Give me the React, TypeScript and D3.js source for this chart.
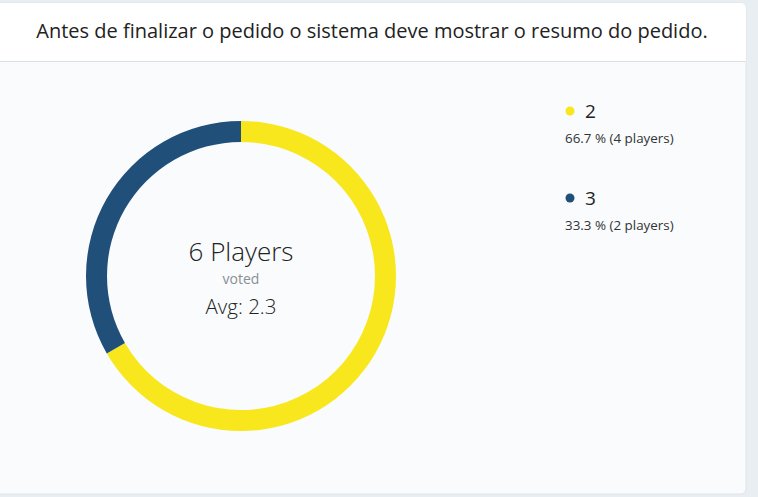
import React, { useRef, useEffect } from 'react';
import * as d3 from 'd3';

const title = 'Antes de finalizar o pedido o sistema deve mostrar o resumo do pedido.';
const voteLabels = ['2', '3'];
const voteCounts = [4, 2];
const voteColors = ['#f8e71c', '#20507a'];

const App = () => {
  const svgRef = useRef<SVGSVGElement>(null);

  useEffect(() => {
    const svg = d3.select(svgRef.current);
    svg.selectAll('*').remove();
    const width = 758;
    const height = 497;
    const font = "'Open Sans', sans-serif";

    // page background and card
    svg.append('rect').attr('width', width).attr('height', height).attr('fill', '#e9eef3');
    svg.append('rect')
      .attr('x', -6).attr('y', 3).attr('width', 752).attr('height', 491)
      .attr('rx', 5)
      .attr('fill', '#f9fbfd')
      .attr('stroke', '#dfe4e9');
    svg.append('path')
      .attr('d', 'M-6,61 V8 a5,5 0 0 1 5,-5 H741 a5,5 0 0 1 5,5 V61 Z')
      .attr('fill', '#ffffff');
    svg.append('line')
      .attr('x1', 0).attr('x2', 746).attr('y1', 61.5).attr('y2', 61.5)
      .attr('stroke', '#dcdfe3');

    svg.append('text')
      .attr('x', 372).attr('y', 38)
      .attr('text-anchor', 'middle')
      .attr('font-family', font)
      .attr('font-size', 20)
      .attr('fill', '#222')
      .text(title);

    // donut
    const total = d3.sum(voteCounts);
    const data = voteLabels.map((l, i) => ({ label: l, count: voteCounts[i], color: voteColors[i] }));
    const pie = d3.pie<any>().value(d => d.count).sort(null);
    const arc = d3.arc<any>().innerRadius(134).outerRadius(155);
    const g = svg.append('g').attr('transform', 'translate(241,276)');
    g.selectAll('path')
      .data(pie(data))
      .join('path')
      .attr('d', arc)
      .attr('fill', d => d.data.color);

    const avg = d3.sum(data, d => +d.label * d.count) / total;
    g.append('text')
      .attr('y', -15).attr('text-anchor', 'middle')
      .attr('font-family', font).attr('font-weight', 300)
      .attr('font-size', 26).attr('fill', '#222')
      .text(`${total} Players`);
    g.append('text')
      .attr('y', 8).attr('text-anchor', 'middle')
      .attr('font-family', font).attr('font-size', 14).attr('fill', '#8a8f94')
      .text('voted');
    g.append('text')
      .attr('y', 38).attr('text-anchor', 'middle')
      .attr('font-family', font).attr('font-weight', 300)
      .attr('font-size', 20.5).attr('fill', '#222')
      .text(`Avg: ${avg.toFixed(1)}`);

    // legend
    const legend = svg.append('g').attr('transform', 'translate(565,111)');
    const item = legend.selectAll('g')
      .data(data)
      .join('g')
      .attr('transform', (d, i) => `translate(0,${i * 87})`);
    item.append('circle').attr('cx', 5).attr('cy', 0).attr('r', 4.5).attr('fill', d => d.color);
    item.append('text')
      .attr('x', 20).attr('y', 7)
      .attr('font-family', font).attr('font-size', 19).attr('fill', '#222')
      .text(d => d.label);
    item.append('text')
      .attr('x', 0).attr('y', 32)
      .attr('font-family', font).attr('font-size', 13.4).attr('fill', '#333')
      .text(d => `${((d.count / total) * 100).toFixed(1)} % (${d.count} players)`);
  }, []);

  return (
    <svg ref={svgRef} width="758" height="497" style={{ position: 'absolute', left: 0, top: 0 }}></svg>
  );
};

export default App;
